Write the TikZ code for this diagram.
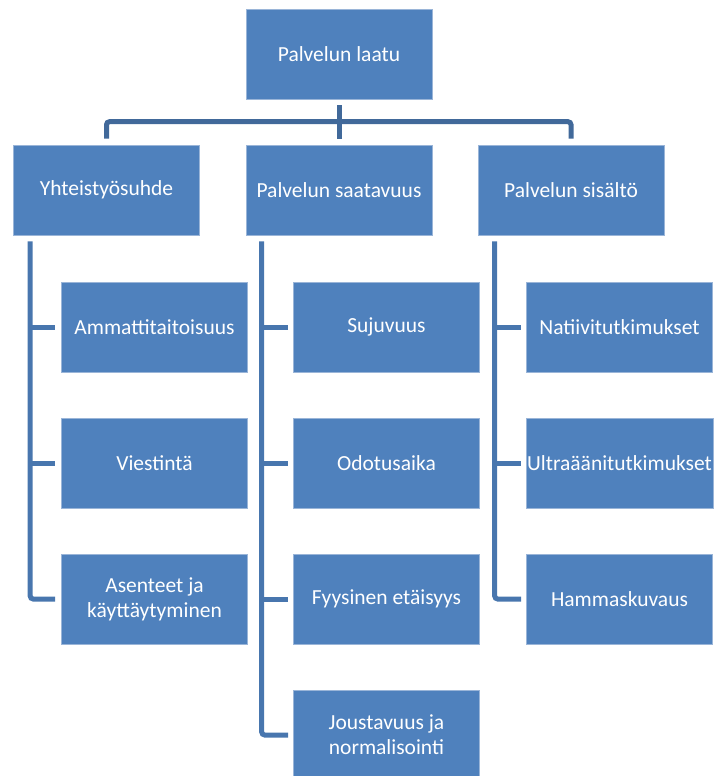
\documentclass[tikz,border=0pt]{standalone}
\usepackage{fontspec}
\setmainfont{Carlito}
\definecolor{boxfill}{HTML}{4F81BD}
\definecolor{boxedge}{HTML}{9AB5D8}
\definecolor{topline}{HTML}{41699A}
\definecolor{colline}{HTML}{4876AE}
\begin{document}
\begin{tikzpicture}[x=1pt,y=-1pt,
  box/.style={rectangle, fill=boxfill, draw=boxedge, line width=0.6pt,
    minimum width=186pt, minimum height=90pt, inner sep=1pt, text=white,
    align=center, font=\fontsize{21.5}{25}\selectfont},
  conn/.style={draw=topline, line width=5pt, rounded corners=3pt},
  colconn/.style={draw=colline, line width=5pt, rounded corners=3pt}]
\useasboundingbox (0,0) rectangle (715,776);
\clip (0,0) rectangle (715,776);
% level 1
\node[box] (top) at (339,54) {Palvelun laatu};
% level 2
\node[box] (l2a) at (106.5,190) {Yhteistyösuhde};
\node[box] (l2b) at (339,190) {Palvelun saatavuus};
\node[box] (l2c) at (571,190) {Palvelun sisältö};
% level 3 left
\node[box] (a1) at (154.5,327) {Ammattitaitoisuus};
\node[box] (a2) at (154.5,463) {Viestintä};
\node[box] (a3) at (154.5,599) {Asenteet ja\\käyttäytyminen};
% level 3 middle
\node[box] (b1) at (386.5,327) {Sujuvuus};
\node[box] (b2) at (386.5,463) {Odotusaika};
\node[box] (b3) at (386.5,599) {Fyysinen etäisyys};
\node[box] (b4) at (386.5,735) {Joustavuus ja\\normalisointi};
% level 3 right
\node[box] (c1) at (619.5,327) {Natiivitutkimukset};
\node[box] (c2) at (619.5,463) {Ultraäänitutkimukset};
\node[box] (c3) at (619.5,599) {Hammaskuvaus};
% top connectors
\draw[conn] ([yshift=-6pt]top.south) -- ([yshift=6pt]l2b.north);
\draw[conn] ([yshift=6pt]l2a.north) -- ++(0,-17) -| ([yshift=6pt]l2c.north);
% column coordinates
\coordinate (ca) at ([xshift=17pt,yshift=-6pt]l2a.south west);
\coordinate (cb) at ([xshift=16pt,yshift=-6pt]l2b.south west);
\coordinate (cc) at ([xshift=17pt,yshift=-6pt]l2c.south west);
% left column
\draw[colconn] (ca) |- ([xshift=-6pt]a3.west);
\draw[colconn] (ca |- a1.west) -- ([xshift=-6pt]a1.west);
\draw[colconn] (ca |- a2.west) -- ([xshift=-6pt]a2.west);
% middle column
\draw[colconn] (cb) |- ([xshift=-5pt]b4.west);
\draw[colconn] (cb |- b1.west) -- ([xshift=-5pt]b1.west);
\draw[colconn] (cb |- b2.west) -- ([xshift=-5pt]b2.west);
\draw[colconn] (cb |- b3.west) -- ([xshift=-5pt]b3.west);
% right column
\draw[colconn] (cc) |- ([xshift=-5pt]c3.west);
\draw[colconn] (cc |- c1.west) -- ([xshift=-5pt]c1.west);
\draw[colconn] (cc |- c2.west) -- ([xshift=-5pt]c2.west);
\end{tikzpicture}
\end{document}
